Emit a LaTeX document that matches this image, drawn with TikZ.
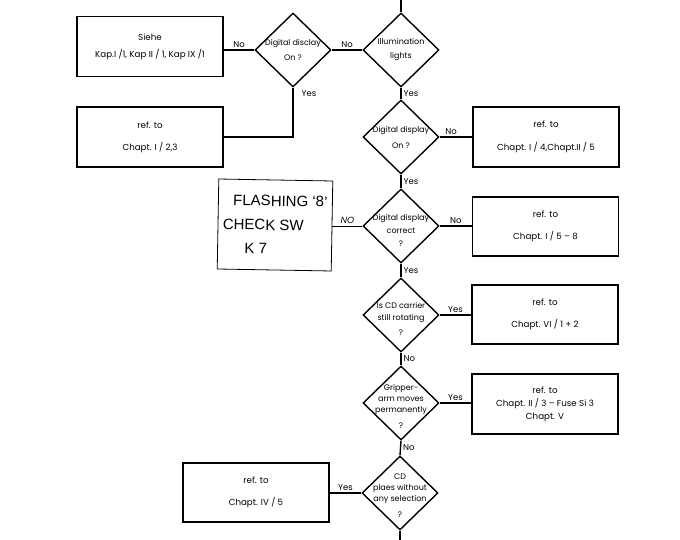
\documentclass[tikz,border=0pt]{standalone}
\usepackage{fontspec}
\setmainfont{Poppins}
\newfontfamily\handfont{Liberation Sans}
\usetikzlibrary{shapes.geometric}

\begin{document}
\begin{tikzpicture}[x=1pt, y=-1pt, font=\fontsize{8.7}{10}\selectfont, link/.style={line width=1.4pt}, refbox/.style={draw, line width=1.4pt, minimum width=146pt, minimum height=60pt, inner sep=0pt, align=center}, decision/.style={draw, diamond, line width=1.4pt, minimum width=76pt, minimum height=74pt, inner sep=0pt}, yn/.style={font=\fontsize{8.5}{9}\selectfont, inner sep=2pt}]
\useasboundingbox (0,0) rectangle (680,540);
\node[refbox] (siehe) at (150,46.5){Siehe\\[7pt]Kap.I /1, Kap II / 1, Kap IX /1};
\node[refbox] (chI23) at (150,137){ref. to\\[12pt]Chapt. I / 2,3};
\node[refbox] (chI4) at (546,137){ref. to\\[13pt]Chapt. I / 4,Chapt.II / 5};
\node[refbox, minimum height=59pt] (chI58) at (545.5,226.5){ref. to\\[12pt]Chapt. I / 5 -- 8};
\node[refbox, minimum height=59pt] (chVI) at (545,314.5){ref. to\\[12pt]Chapt. VI / 1 + 2};
\node[refbox] (chII3) at (545,404){ref. to\\[3pt]Chapt. II / 3 -- Fuse Si 3\\[3pt]Chapt. V};
\node[refbox, minimum height=59pt] (chIV5) at (256,492.5){ref. to\\[12pt]Chapt. IV / 5};
\node[draw, line width=0.8pt, minimum width=114pt, minimum height=90pt, inner sep=0pt, align=left, font=\handfont\fontsize{15}{24}\selectfont, rotate=-1] (note) at (275,225){\hspace*{10pt}FLASHING ‘8’\\CHECK SW\\\hspace*{22pt}K 7};
\node[decision, label={[align=center, font=\fontsize{8}{15}\selectfont]center:Digital disclay\\On ?}] (dd1) at (293,50){};
\node[decision, label={[align=center, font=\fontsize{8}{14}\selectfont]center:Illumination\\lights}] (illum) at (401,50){};
\node[decision, label={[align=center, font=\fontsize{8}{16}\selectfont]center:Digital display\\On ?}] (dd2) at (401,137){};
\node[decision, label={[align=center, font=\fontsize{8}{13}\selectfont, yshift=-4pt]center:Digital display\\correct\\?}] (ddc) at (401,226){};
\node[decision, label={[align=center, font=\fontsize{8}{12}\selectfont, yshift=-4pt]center:Is CD carrier\\still rotating\\[3pt]?}] (rot) at (401,315){};
\node[decision, label={[align=center, font=\fontsize{8}{11}\selectfont, yshift=-3pt]center:Gripper-\\arm moves\\permanently\\[5pt]?}] (grip) at (401,403){};
\node[decision, label={[align=center, font=\fontsize{8}{11}\selectfont, yshift=-3pt]center:CD\\plaes without\\any selection\\[5pt]?}] (plays) at (400,493){};
\coordinate (topin) at (401,0);
\coordinate (botout) at (400,540);
\draw[link] (topin) -- (illum.north);
\draw[link] (illum.west) -- node[yn, above]{No} (dd1.east);
\draw[link] (dd1.west) -- node[yn, above]{No} (dd1.west -| siehe.east);
\draw[link] (dd1.south) |- node[yn, pos=0, anchor=north west, xshift=6pt]{Yes} (chI23.east);
\draw[link] (illum.south) -- node[yn, right]{Yes} (dd2.north);
\draw[link] (dd2.east) -- node[yn, above, pos=0.35]{No} (dd2.east -| chI4.west);
\draw[link] (dd2.south) -- node[yn, right]{Yes} (ddc.north);
\draw[link] (ddc.east) -- node[yn, above]{No} (ddc.east -| chI58.west);
\draw[line width=0.8pt] (ddc.west) -- node[above, font=\handfont\itshape\fontsize{9}{9}\selectfont, inner sep=2pt]{NO} (ddc.west -| note.east);
\draw[link] (ddc.south) -- node[yn, right]{Yes} (rot.north);
\draw[link] (rot.east) -- node[yn, above]{Yes} (rot.east -| chVI.west);
\draw[link] (rot.south) -- node[yn, right]{No} (grip.north);
\draw[link] (grip.east) -- node[yn, above]{Yes} (grip.east -| chII3.west);
\draw[link] (grip.south) -- node[yn, right]{No} (plays.north);
\draw[link] (plays.west) -- node[yn, above]{Yes} (plays.west -| chIV5.east);
\draw[link] (plays.south) -- (botout);
\end{tikzpicture}
\end{document}
